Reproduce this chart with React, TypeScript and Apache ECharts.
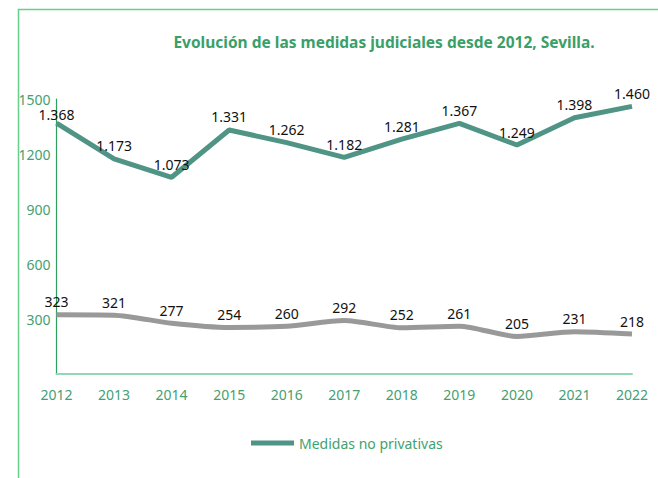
import React, { useEffect, useRef } from "react";
import * as echarts from "echarts";

const years = ["2012", "2013", "2014", "2015", "2016", "2017", "2018", "2019", "2020", "2021", "2022"];
const medidasNoPrivativas = [1368, 1173, 1073, 1331, 1262, 1182, 1281, 1367, 1249, 1398, 1460];
const medidasPrivativas = [323, 321, 277, 254, 260, 292, 252, 261, 205, 231, 218];
const yTicks = { min: 0, max: 1500, interval: 300 };

const titleText = "Evolución de las medidas judiciales desde 2012, Sevilla.";
const legendName = "Medidas no privativas";

const fmtDot = (v: number) => String(v).replace(/\B(?=(\d{3})+(?!\d))/g, ".");

export default function App() {
  const ref = useRef<HTMLDivElement>(null);
  useEffect(() => {
    if (!ref.current) return;
    const chart = echarts.init(ref.current, null, { renderer: "svg" });
    const font = "'Noto Sans', sans-serif";
    const greenData = medidasNoPrivativas.map((v, i) =>
      i === 0 ? { value: v, label: { distance: 2 } } : v
    );
    chart.setOption({
      animation: false,
      backgroundColor: "#ffffff",
      title: {
        text: titleText,
        left: 379,
        top: 29,
        textAlign: "center",
        textStyle: { fontFamily: font, fontWeight: "bold", fontSize: 15.5, color: "#3a9f68" },
      },
      legend: {
        data: [legendName],
        left: 246,
        top: 431,
        itemWidth: 43,
        itemHeight: 5,
        itemGap: 6,
        icon: "rect",
        textStyle: { fontFamily: font, fontSize: 14, color: "#3fa26e" },
      },
      graphic: [
        {
          type: "polyline",
          shape: { points: [[18.5, 478], [18.5, 9.5], [658, 9.5]] },
          style: { stroke: "#66cf8a", lineWidth: 1.5, fill: "none" },
          silent: true,
        },
      ],
      grid: { left: 56.5, right: 26, top: 99, bottom: 104, containLabel: false },
      xAxis: {
        type: "category",
        data: years,
        boundaryGap: false,
        axisLine: { show: true, lineStyle: { color: "#94d6b6", width: 2 } },
        axisTick: { show: false },
        axisLabel: { fontFamily: font, fontSize: 14, color: "#449f72", margin: 13 },
        splitLine: { show: false },
      },
      yAxis: {
        type: "value",
        min: yTicks.min,
        max: yTicks.max,
        interval: yTicks.interval,
        axisLine: { show: true, lineStyle: { color: "#2f9f5f", width: 1.2 } },
        axisTick: { show: false },
        splitLine: { show: false },
        axisLabel: {
          fontFamily: font,
          fontSize: 14,
          color: "#449f72",
          margin: 6,
          showMinLabel: false,
          formatter: (v: number) => String(v),
        },
      },
      series: [
        {
          name: legendName,
          type: "line",
          data: greenData,
          symbol: "circle",
          symbolSize: 0,
          showSymbol: true,
          lineStyle: { color: "#4f9484", width: 5 },
          itemStyle: { color: "#4f9484" },
          label: {
            show: true,
            position: "top",
            distance: 6,
            fontFamily: font,
            fontSize: 14,
            color: "#111",
            formatter: (p: any) => fmtDot(p.value),
          },
        },
        {
          name: "privativas",
          type: "line",
          data: medidasPrivativas,
          symbol: "circle",
          symbolSize: 0,
          showSymbol: true,
          smooth: 0.25,
          lineStyle: { color: "#999999", width: 5 },
          itemStyle: { color: "#999999" },
          label: {
            show: true,
            position: "top",
            distance: 6,
            fontFamily: font,
            fontSize: 14,
            color: "#111",
          },
        },
      ],
    });
    return () => chart.dispose();
  }, []);
  return <div ref={ref} style={{ position: "fixed", left: 0, top: 0, width: 658, height: 478 }} />;
}
